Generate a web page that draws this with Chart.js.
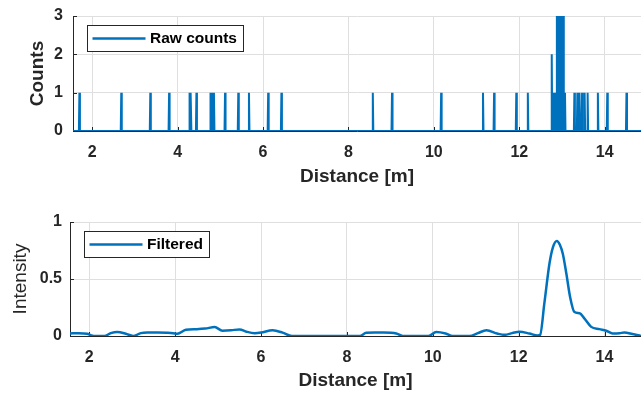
<!DOCTYPE html>
<html>
<head>
<meta charset="utf-8">
<script src="https://cdn.jsdelivr.net/npm/chart.js@4.4.1/dist/chart.umd.min.js"></script>
<style>
  html, body { margin: 0; padding: 0; background: #fff; }
  #wrap { position: relative; width: 641px; height: 393px; overflow: hidden; }
  #wrap canvas { position: absolute; left: 0; }
</style>
</head>
<body>
<div id="wrap">
  <canvas id="rawChart" width="641" height="196" style="top:0"></canvas>
  <canvas id="filtChart" width="641" height="197" style="top:196px"></canvas>
</div>
<script>
// distance span of the measurement
const distanceRange = [1.55, 14.85];
const distanceTicks = [2, 4, 6, 8, 10, 12, 14];

// raw histogram: only the non-empty bins (everything else is 0)
const rawDistance = [1.70, 2.68, 3.36, 3.80, 4.28, 4.31, 4.44, 4.77, 4.81, 4.85, 5.11, 5.42, 5.67,
  6.12, 6.43, 8.57, 9.02, 10.17, 11.15, 11.41, 11.93, 12.20,
  12.76, 12.80, 12.84, 12.88, 12.91, 12.94, 12.97, 13.00, 13.03, 13.07,
  13.29, 13.36, 13.41, 13.47, 13.53, 13.60, 13.84, 14.06, 14.51];
const rawCounts = [1, 1, 1, 1, 1, 1, 1, 1, 1, 1, 1, 1, 1,
  1, 1, 1, 1, 1, 1, 1, 1, 1,
  2, 1, 1, 3, 3, 3, 3, 3, 3, 1,
  1, 1, 1, 1, 1, 1, 1, 1, 1];
const countTicks = [0, 1, 2, 3];

// filtered intensity
const filteredDistance = [1.55, 1.75, 1.95, 2.05, 2.15, 2.35, 2.5, 2.65, 2.85, 3.02, 3.2, 3.35, 3.6, 3.8,
  3.95, 4.05, 4.25, 4.5, 4.7, 4.92, 5.1, 5.3, 5.5, 5.66, 5.85, 6.0, 6.27, 6.5, 6.72,
  8.3, 8.45, 8.65, 8.85, 9.15, 9.3, 9.9, 10.08, 10.3, 10.46, 10.86, 11.05, 11.25, 11.5,
  11.67, 11.85, 12.02, 12.25, 12.44, 12.5, 12.6, 12.72, 12.8, 12.89, 12.96, 13.03, 13.11,
  13.2, 13.3, 13.42, 13.53, 13.69, 13.88, 14.04, 14.19, 14.35, 14.46, 14.65, 14.85];
const filteredIntensity = [0.023, 0.025, 0.02, 0.005, 0, 0, 0.025, 0.035, 0.02, 0, 0.025, 0.03, 0.03, 0.028,
  0.025, 0.02, 0.055, 0.06, 0.065, 0.078, 0.047, 0.05, 0.058, 0.038, 0.025, 0.03, 0.05, 0.03, 0,
  0, 0.028, 0.03, 0.03, 0.022, 0, 0, 0.035, 0.022, 0, 0, 0.025, 0.05, 0.022,
  0.01, 0.025, 0.038, 0.022, 0.005, 0.01, 0.29, 0.64, 0.78, 0.834, 0.8, 0.72, 0.55,
  0.34, 0.21, 0.2, 0.155, 0.08, 0.06, 0.046, 0.023, 0.025, 0.03, 0.017, 0];
const intensityTicks = [0, 0.5, 1];

const BLUE = '#0072BD';
const AXIS = '#262626';
const GRID = '#dfdfdf';
const FONT = '"Liberation Sans", Arial, sans-serif';

// spikes: each bin rises from 0 and falls back to 0
function spikeLine(xs, ys) {
  const half = 0.012;
  const pts = [{ x: distanceRange[0], y: 0 }];
  xs.forEach((d, i) => {
    pts.push({ x: d - half, y: 0 }, { x: d, y: ys[i] }, { x: d + half, y: 0 });
  });
  pts.push({ x: distanceRange[1], y: 0 });
  return pts;
}

// legend box drawn inside the plot, MATLAB style
const boxLegend = {
  id: 'boxLegend',
  afterDatasetsDraw(chart) {
    const { ctx, chartArea } = chart;
    const ds = chart.data.datasets[0];
    ctx.save();
    ctx.font = 'bold 15.5px ' + FONT;
    const tw = ctx.measureText(ds.label).width;
    const x = Math.round(chartArea.left + 14), y = Math.round(chartArea.top + 9);
    const w = Math.round(5.5 + 53 + 4.5 + tw + 6.5), h = 26;
    ctx.fillStyle = '#fff';
    ctx.fillRect(x, y, w, h);
    ctx.strokeStyle = AXIS;
    ctx.lineWidth = 1;
    ctx.strokeRect(x + 0.5, y + 0.5, w, h);
    ctx.strokeStyle = ds.borderColor;
    ctx.lineWidth = 2.5;
    ctx.beginPath();
    ctx.moveTo(x + 5.5, y + h / 2 + 0.5);
    ctx.lineTo(x + 58.5, y + h / 2 + 0.5);
    ctx.stroke();
    ctx.fillStyle = '#000';
    ctx.textBaseline = 'middle';
    ctx.fillText(ds.label, x + 63, y + h / 2 + 1);
    ctx.restore();
  }
};

// short tick marks pointing into the axes
const innerTicks = {
  id: 'innerTicks',
  beforeDatasetsDraw(chart) {
    const { ctx, chartArea, scales } = chart;
    ctx.save();
    ctx.strokeStyle = AXIS;
    ctx.lineWidth = 1;
    ctx.beginPath();
    scales.x.ticks.forEach(t => {
      const px = Math.round(scales.x.getPixelForValue(t.value)) + 0.5;
      ctx.moveTo(px, chartArea.bottom);
      ctx.lineTo(px, chartArea.bottom - 4);
    });
    scales.y.ticks.forEach(t => {
      const py = Math.round(scales.y.getPixelForValue(t.value)) + 0.5;
      ctx.moveTo(chartArea.left, py);
      ctx.lineTo(chartArea.left + 4, py);
    });
    ctx.stroke();
    ctx.restore();
  }
};

function makeOptions(cfg) {
  return {
    responsive: false,
    animation: false,
    layout: { padding: { top: cfg.top, left: 0, right: 0, bottom: 0 } },
    plugins: { legend: { display: false }, tooltip: { enabled: false } },
    scales: {
      x: {
        type: 'linear',
        min: distanceRange[0],
        max: distanceRange[1],
        afterBuildTicks: ax => { ax.ticks = distanceTicks.map(v => ({ value: v })); },
        afterFit: ax => { ax.height = cfg.xHeight; ax.paddingLeft = 0; ax.paddingRight = 0; },
        grid: { color: GRID, drawTicks: false },
        border: { color: AXIS },
        ticks: { color: AXIS, padding: 12, font: { family: FONT, size: 16, weight: 'bold' } },
        title: {
          display: true, text: 'Distance [m]', color: AXIS,
          font: { family: FONT, size: 19, weight: 'bold' },
          padding: { top: 0, bottom: cfg.titlePad }
        }
      },
      y: {
        min: 0,
        max: cfg.yTicks[cfg.yTicks.length - 1],
        afterBuildTicks: ax => { ax.ticks = cfg.yTicks.map(v => ({ value: v })); },
        afterFit: ax => { ax.width = cfg.yWidth; ax.paddingTop = 0; ax.paddingBottom = 0; },
        grid: { color: GRID, drawTicks: false },
        border: { color: AXIS },
        ticks: {
          color: AXIS, padding: cfg.yPad, callback: v => String(v),
          font: { family: FONT, size: 16, weight: 'bold' }
        },
        title: {
          display: true, text: cfg.yTitle, color: AXIS,
          font: { family: FONT, size: 19, weight: cfg.yTitleWeight },
          padding: { top: cfg.yTitlePad, bottom: 0 }
        }
      }
    }
  };
}

new Chart(document.getElementById('rawChart'), {
  type: 'line',
  data: {
    datasets: [{
      label: 'Raw counts',
      data: spikeLine(rawDistance, rawCounts),
      borderColor: BLUE,
      borderWidth: 2,
      pointRadius: 0,
      tension: 0
    }]
  },
  options: makeOptions({
    top: 16, xHeight: 65, titlePad: 8, yWidth: 73, yPad: 10,
    yTicks: countTicks, yTitle: 'Counts', yTitleWeight: 'bold', yTitlePad: 26
  }),
  plugins: [innerTicks, boxLegend]
});

new Chart(document.getElementById('filtChart'), {
  type: 'line',
  data: {
    datasets: [{
      label: 'Filtered',
      data: filteredDistance.map((d, i) => ({ x: d, y: filteredIntensity[i] })),
      borderColor: BLUE,
      borderWidth: 2.5,
      pointRadius: 0,
      cubicInterpolationMode: 'monotone'
    }]
  },
  options: makeOptions({
    top: 26, xHeight: 57, titlePad: 1, yWidth: 70, yPad: 8,
    yTicks: intensityTicks, yTitle: 'Intensity', yTitleWeight: 'normal', yTitlePad: 9
  }),
  plugins: [innerTicks, boxLegend]
});
</script>
</body>
</html>
